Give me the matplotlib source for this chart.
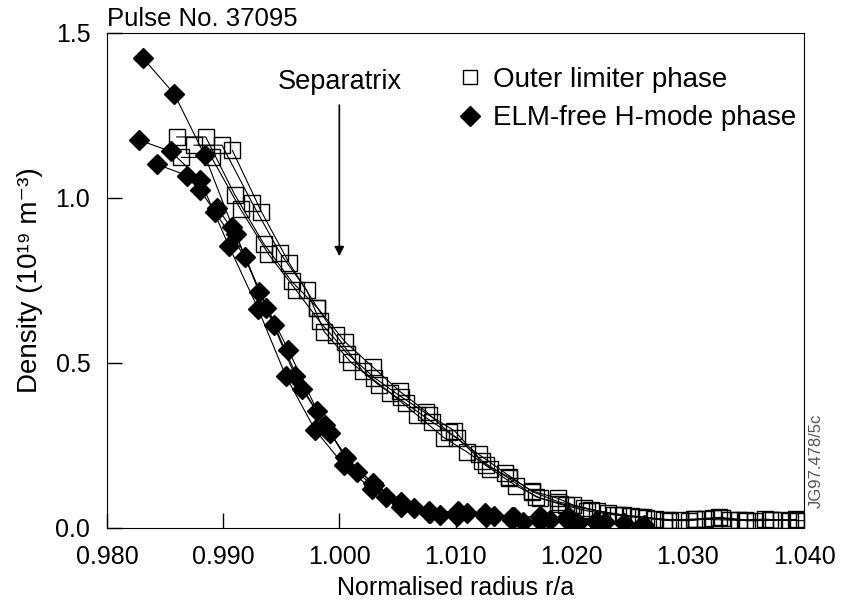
import matplotlib.pyplot as plt
from matplotlib.lines import Line2D

plt.rcParams['font.family'] = ['Liberation Sans', 'DejaVu Sans']

# outer limiter phase profiles (open squares)
r_ol1 = [0.9860, 0.9885, 0.9910, 0.9935, 0.9959, 0.9981, 1.0005, 1.0029, 1.0052, 1.0075, 1.0094,
         1.0120, 1.0143, 1.0166, 1.0188, 1.0211, 1.0231, 1.0251, 1.0272, 1.0293, 1.0315, 1.0336,
         1.0358, 1.0380, 1.0400]
n_ol1 = [1.185, 1.185, 1.010, 0.861, 0.747, 0.668, 0.564, 0.487, 0.414, 0.352, 0.290,
         0.223, 0.166, 0.110, 0.080, 0.060, 0.045, 0.035, 0.028, 0.024, 0.026, 0.024,
         0.022, 0.024, 0.022]
r_ol2 = [0.9875, 0.9899, 0.9925, 0.9949, 0.9972, 0.9987, 1.0010, 1.0034, 1.0057, 1.0080, 1.0101,
         1.0123, 1.0146, 1.0169, 1.0190, 1.0213, 1.0236, 1.0257, 1.0279, 1.0301, 1.0322, 1.0344,
         1.0366, 1.0388]
n_ol2 = [1.160, 1.160, 0.985, 0.833, 0.720, 0.595, 0.502, 0.433, 0.378, 0.321, 0.274,
         0.202, 0.150, 0.095, 0.072, 0.052, 0.040, 0.032, 0.024, 0.022, 0.030, 0.024,
         0.027, 0.022]
r_ol3 = [0.9864, 0.9890, 0.9915, 0.9939, 0.9963, 0.9983, 1.0007, 1.0030, 1.0053, 1.0077, 1.0099,
         1.0126, 1.0146, 1.0166, 1.0188, 1.0201, 1.0222, 1.0244, 1.0264, 1.0285, 1.0307, 1.0329,
         1.0351, 1.0373, 1.0395]
n_ol3 = [1.123, 1.123, 0.966, 0.830, 0.720, 0.626, 0.528, 0.456, 0.398, 0.342, 0.295,
         0.190, 0.155, 0.112, 0.090, 0.070, 0.052, 0.040, 0.030, 0.022, 0.026, 0.030,
         0.022, 0.025, 0.023]
r_ol4 = [0.9908, 0.9933, 0.9957, 0.9981, 0.9997, 1.0020, 1.0044, 1.0067, 1.0090, 1.0110, 1.0130,
         1.0152, 1.0173, 1.0195, 1.0217, 1.0240, 1.0261, 1.0283, 1.0305, 1.0327, 1.0349, 1.0371,
         1.0393]
n_ol4 = [1.144, 0.958, 0.802, 0.668, 0.585, 0.476, 0.409, 0.342, 0.274, 0.230, 0.180,
         0.128, 0.090, 0.070, 0.055, 0.040, 0.034, 0.024, 0.027, 0.032, 0.025, 0.023,
         0.026]

# ELM-free H-mode phase profiles (filled diamonds)
r_h1 = [0.9831, 0.9858, 0.9884, 0.9908, 0.9931, 0.9956, 0.9981, 1.0005, 1.0029, 1.0053, 1.0077,
        1.0101, 1.0125, 1.0149, 1.0173, 1.0197, 1.0221, 1.0245]
n_h1 = [1.424, 1.315, 1.130, 0.913, 0.716, 0.540, 0.355, 0.215, 0.135, 0.080, 0.050,
        0.045, 0.045, 0.032, 0.035, 0.025, 0.018, 0.015]
r_h2 = [0.9828, 0.9855, 0.9880, 0.9905, 0.9930, 0.9954, 0.9979, 1.0004, 1.0028, 1.0053, 1.0077,
        1.0101, 1.0125, 1.0149, 1.0173, 1.0197, 1.0221, 1.0262]
n_h2 = [1.175, 1.141, 1.056, 0.854, 0.665, 0.460, 0.298, 0.190, 0.118, 0.065, 0.045,
        0.035, 0.040, 0.025, 0.022, 0.035, 0.020, 0.008]
r_h3 = [0.9843, 0.9869, 0.9880, 0.9893, 0.9919, 0.9944, 0.9968, 0.9992, 1.0015, 1.0040, 1.0064,
        1.0087, 1.0110, 1.0133, 1.0158, 1.0181, 1.0205, 1.0229]
n_h3 = [1.102, 1.068, 1.025, 0.958, 0.820, 0.615, 0.422, 0.288, 0.170, 0.095, 0.060,
        0.040, 0.045, 0.035, 0.018, 0.024, 0.015, 0.018]
r_h4 = [0.9895, 0.9911, 0.9937, 0.9962, 0.9988, 1.0006, 1.0030, 1.0054, 1.0078, 1.0102, 1.0126,
        1.0150, 1.0174, 1.0198, 1.0222, 1.0260]
n_h4 = [0.969, 0.890, 0.668, 0.460, 0.312, 0.212, 0.130, 0.072, 0.045, 0.052, 0.034,
        0.034, 0.028, 0.018, 0.015, 0.005]

outer = [(r_ol1, n_ol1), (r_ol2, n_ol2), (r_ol3, n_ol3), (r_ol4, n_ol4)]
hmode = [(r_h1, n_h1), (r_h2, n_h2), (r_h3, n_h3), (r_h4, n_h4)]

fig = plt.figure(figsize=(8.42, 6.03), dpi=100)
ax = fig.add_axes([0.127, 0.1244, 0.828, 0.8209])

for r, n in outer:
    ax.plot(r, n, 'k-', lw=0.8, marker='s', ms=11, mfc='none', mec='black', mew=1.0)
for r, n in hmode:
    ax.plot(r, n, 'k-', lw=0.8, marker='D', ms=10, mfc='black', mec='black')

ax.set_xlim(0.980, 1.040)
ax.set_ylim(0.0, 1.5)
ax.set_xticks([0.980, 0.990, 1.000, 1.010, 1.020, 1.030, 1.040])
ax.set_xticklabels(['0.980', '0.990', '1.000', '1.010', '1.020', '1.030', '1.040'])
ax.set_yticks([0.0, 0.5, 1.0, 1.5])
ax.set_yticklabels(['0.0', '0.5', '1.0', '1.5'])
ax.tick_params(direction='in', length=11, width=1, labelsize=18)
ax.tick_params(axis='x', pad=12)
ax.tick_params(axis='y', pad=12)
ax.set_xlabel('Normalised radius r/a', fontsize=18, labelpad=5)
ax.set_ylabel('Density (10¹⁹ m⁻³)', fontsize=20, labelpad=9)

ax.text(0.0, 1.005, 'Pulse No. 37095', transform=ax.transAxes, fontsize=18.5, ha='left', va='bottom')

# separatrix marker
ax.annotate('', xy=(1.000, 0.815), xytext=(1.000, 1.29),
            arrowprops=dict(arrowstyle='-|>', color='black', lw=1.2, mutation_scale=14))
ax.text(1.000, 1.35, 'Separatrix', fontsize=19.5, ha='center', va='center')

handles = [Line2D([], [], ls='none', marker='s', ms=10, mfc='none', mec='black'),
           Line2D([], [], ls='none', marker='D', ms=10, mfc='black', mec='black')]
ax.legend(handles, ['Outer limiter phase', 'ELM-free H-mode phase'], loc='upper right',
          bbox_to_anchor=(1.012, 0.965), frameon=False, fontsize=20, handletextpad=0.3,
          labelspacing=0.45, handlelength=1.0, borderaxespad=0.2)

fig.text(0.970, 0.235, 'JG97.478/5c', rotation=90, fontsize=12, color='#555555', ha='center', va='center')

fig.savefig('out.png', dpi=100)
